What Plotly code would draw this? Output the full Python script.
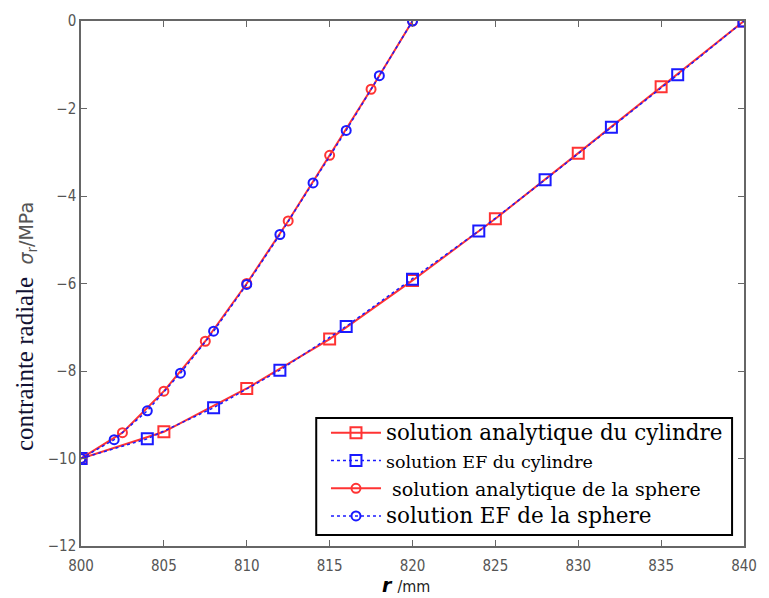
import plotly.graph_objects as go

# Cylinder - analytic
cyl_an_r = [800, 805, 810, 815, 820, 825, 830, 835, 840]
cyl_an_s = [-10.0, -9.39, -8.40, -7.27, -5.93, -4.52, -3.02, -1.50, 0.0]
# Cylinder - FE
cyl_ef_r = [800, 804, 808, 812, 816, 820, 824, 828, 832, 836, 840]
cyl_ef_s = [-10.0, -9.55, -8.84, -7.98, -6.98, -5.90, -4.80, -3.63, -2.43, -1.23, 0.0]
# Sphere - analytic
sph_an_r = [800, 802.5, 805, 807.5, 810, 812.5, 815, 817.5, 820]
sph_an_s = [-10.0, -9.41, -8.46, -7.32, -6.00, -4.57, -3.07, -1.56, 0.0]
# Sphere - FE
sph_ef_r = [800, 802, 804, 806, 808, 810, 812, 814, 816, 818, 820]
sph_ef_s = [-10.0, -9.57, -8.91, -8.05, -7.09, -6.02, -4.88, -3.70, -2.50, -1.25, 0.0]

names = [
    "<span style='font-size:21.4px'>solution analytique du cylindre</span>",
    "<span style='font-size:17.5px'>solution EF du cylindre</span>",
    "<span style='font-size:19px'> solution analytique de la sphere</span>",
    "<span style='font-size:21.5px'>solution EF de la sphere</span>",
]

RED = "#ff3333"
BLUE = "#1a1aff"

fig = go.Figure()
fig.add_trace(go.Scatter(x=cyl_an_r, y=cyl_an_s, name=names[0], mode="lines+markers",
                         line=dict(color=RED, width=2),
                         marker=dict(symbol="square-open", size=11, color=RED, line=dict(width=2, color=RED))))
fig.add_trace(go.Scatter(x=cyl_ef_r, y=cyl_ef_s, name=names[1], mode="lines+markers",
                         line=dict(color=BLUE, width=1.5, dash="dot"),
                         marker=dict(symbol="square-open", size=11, color=BLUE, line=dict(width=2, color=BLUE))))
fig.add_trace(go.Scatter(x=sph_an_r, y=sph_an_s, name=names[2], mode="lines+markers",
                         line=dict(color=RED, width=2),
                         marker=dict(symbol="circle-open", size=9, color=RED, line=dict(width=2, color=RED))))
fig.add_trace(go.Scatter(x=sph_ef_r, y=sph_ef_s, name=names[3], mode="lines+markers",
                         line=dict(color=BLUE, width=1.5, dash="dot"),
                         marker=dict(symbol="circle-open", size=9, color=BLUE, line=dict(width=2, color=BLUE))))

tickfont = dict(family="DejaVu Sans Condensed, Liberation Sans Narrow, Arial", size=15, color="#555555")

fig.update_layout(
    width=769, height=598,
    margin=dict(l=81, r=20, t=17, b=52),
    paper_bgcolor="white", plot_bgcolor="white",
    showlegend=True,
    legend=dict(x=0.3695, y=0.2514, xanchor="left", yanchor="top",
                borderwidth=0, bgcolor="rgba(0,0,0,0)",
                font=dict(family="DejaVu Serif, Liberation Serif, serif", size=19, color="black"),
                tracegroupgap=0, itemwidth=50),
    xaxis=dict(range=[800, 840], tickvals=[800, 805, 810, 815, 820, 825, 830, 835, 840],
               showgrid=False, zeroline=False, showline=True, linecolor="#666666", linewidth=1.5,
               mirror="ticks", ticks="inside", ticklen=6, tickcolor="#666666",
               tickfont=tickfont, ticklabelstandoff=5),
    yaxis=dict(range=[-12, 0], tickvals=[0, -2, -4, -6, -8, -10, -12],
               showgrid=False, zeroline=False, showline=True, linecolor="#666666", linewidth=1.5,
               mirror="ticks", ticks="inside", ticklen=6, tickcolor="#666666",
               tickfont=tickfont),
    shapes=[dict(type="rect", xref="paper", yref="paper",
                 x0=0.3548, x1=0.982, y0=0.0208, y1=0.2439,
                 line=dict(color="black", width=2), fillcolor="rgba(0,0,0,0)", layer="above")],
)

fig.add_annotation(
    xref="paper", yref="paper", x=-0.0838, y=0.418, xanchor="center", yanchor="middle",
    textangle=-90, showarrow=False,
    text="<span style='font-family:Liberation Serif, serif;font-size:25px;color:#111133'>contrainte radiale </span>"
         "<span style='font-family:DejaVu Sans, Arial;font-size:19px;color:#555555'> <i>σ</i><sub>r</sub>/MPa</span>",
)
fig.add_annotation(
    xref="paper", yref="paper", x=0.49, y=-0.0737, xanchor="center", yanchor="middle", showarrow=False,
    text="<span style='font-family:DejaVu Sans, Arial;font-size:19px;color:black'><b><i>r</i></b> </span>"
         "<span style='font-family:DejaVu Sans Condensed, Arial;font-size:16px;color:#222222'>/mm</span>",
)

fig.write_html("out.html")
